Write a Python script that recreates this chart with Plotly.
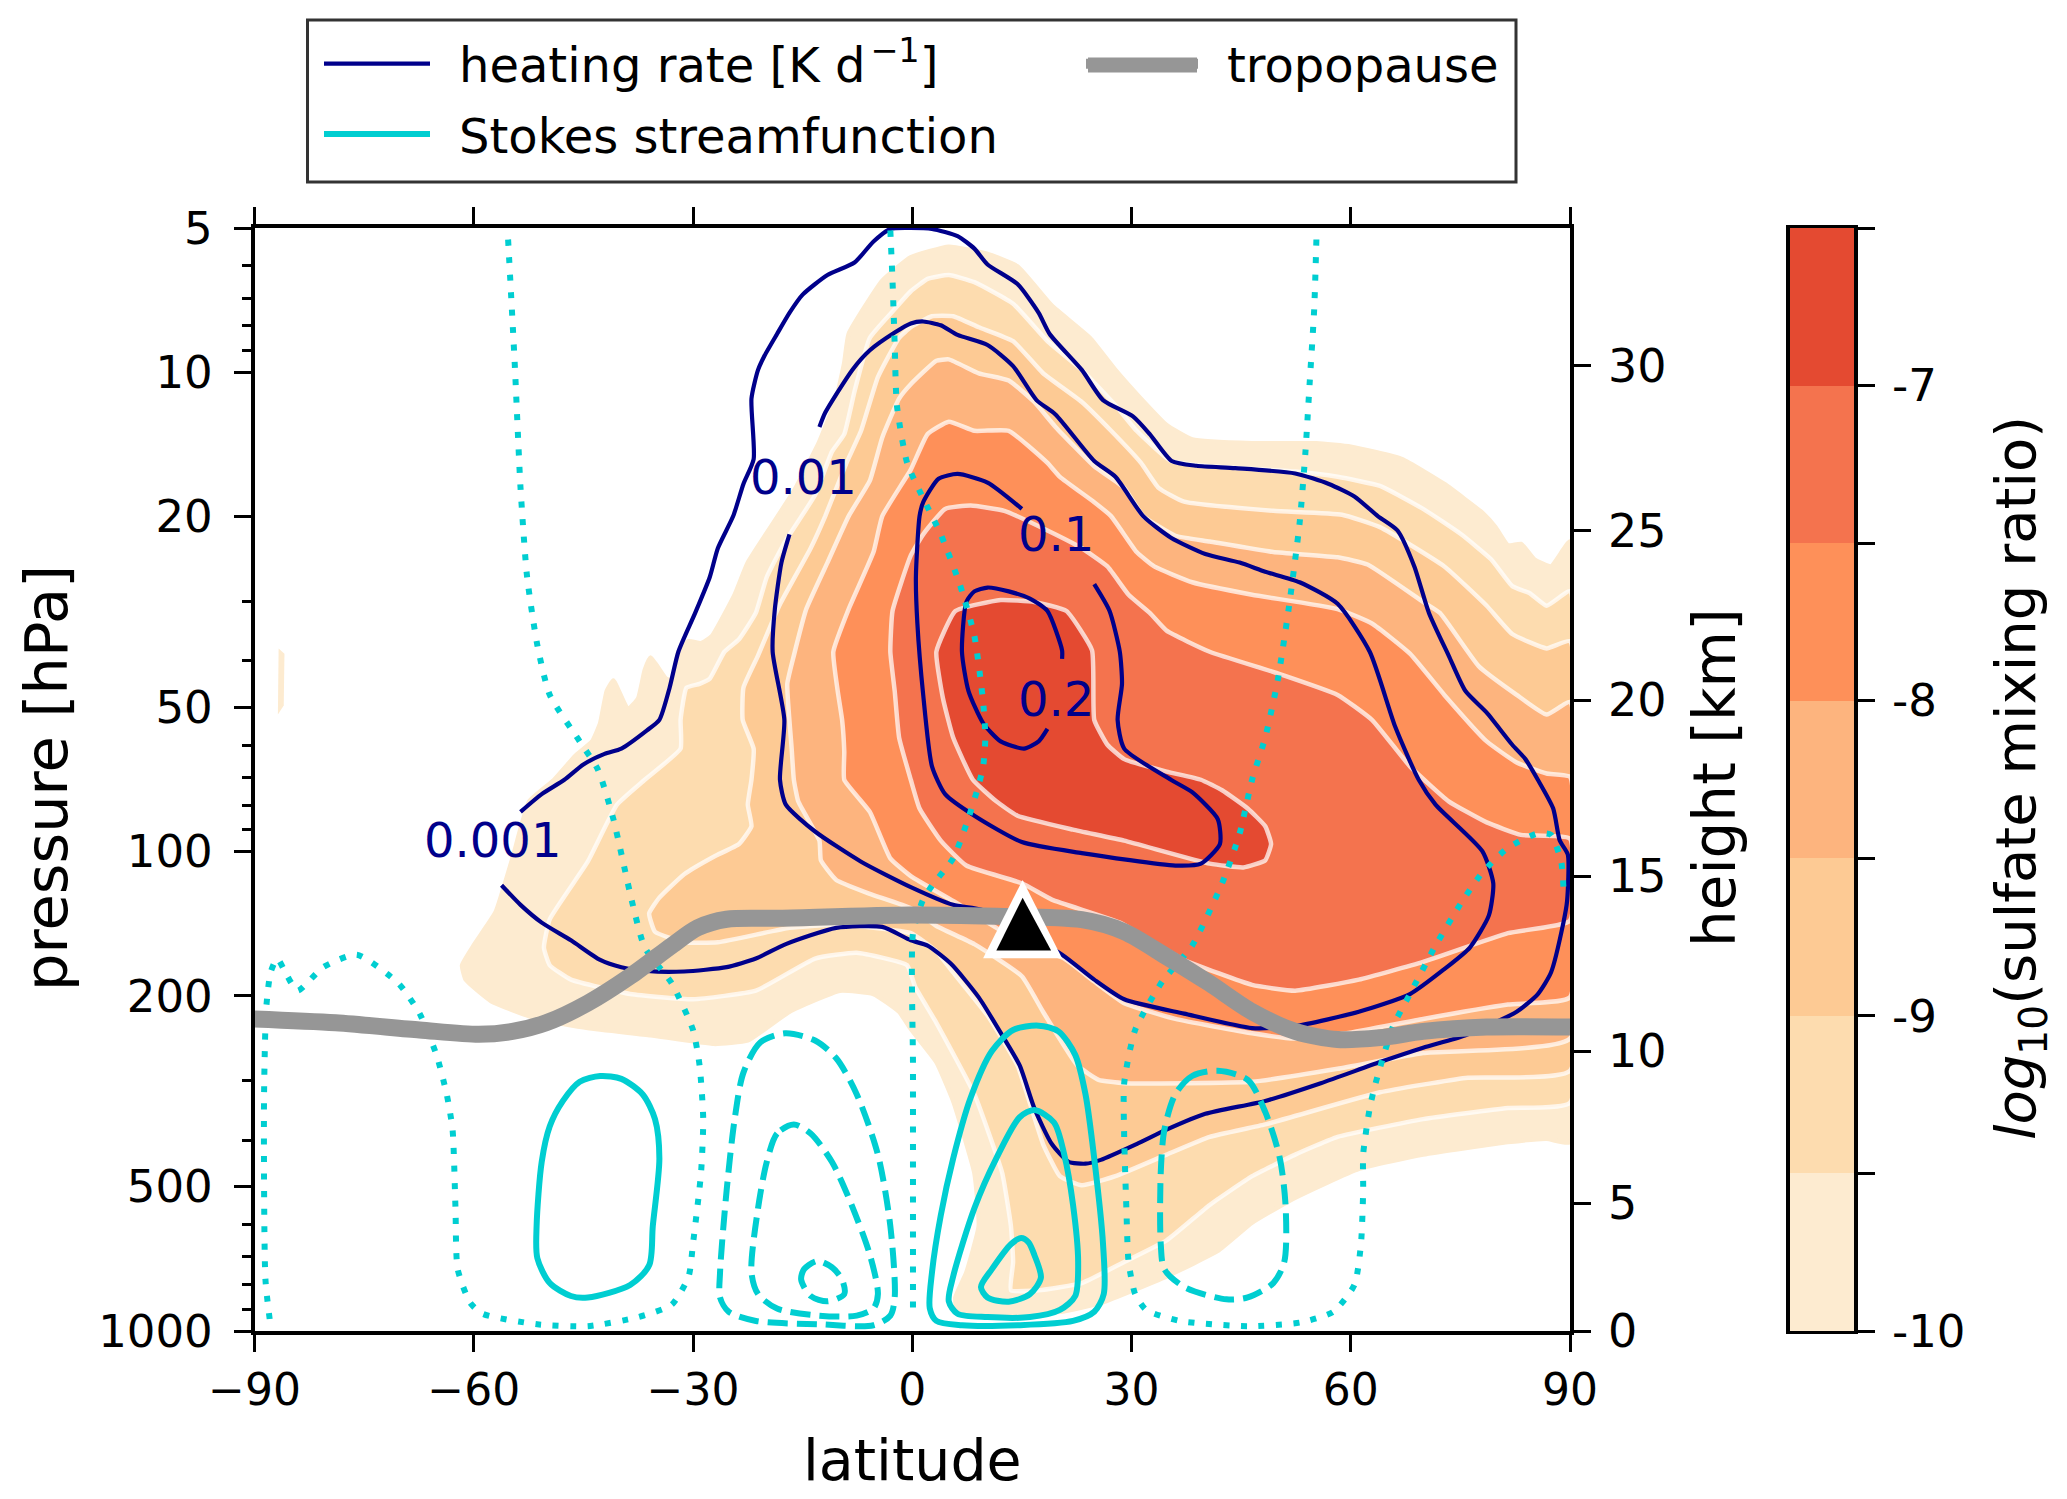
import plotly.graph_objects as go

W, H = 2067, 1499
FONT = "DejaVu Sans"

# ---- sulfate mixing ratio regions (latitude, log10 pressure) ----
levels = [-10, -9.5, -9, -8.5, -8, -7.5, -7]
level_colors = ["#fdebd0", "#fddcaf", "#fdca94", "#fdb47e", "#fe9059", "#f4734e", "#e44a31"]

s1_lat = [6.2,20.2,26.1,34.8,41.8,46.5,52.4,61.1,69.9,81.5,86.8,90,90,87.4,85.1,83.3,81.5,79.8,78,72.8,67,60,55.3,46.5,38.3,34.8,31.3,27.8,24.3,19.1,14.4,10.3,5,-.2,-4.1,-8.7,-9.3,-10.4,-12.7,-16.2,-22.5,-24.3,-27.4,-28.9,-30.6,-32,-32.9,-33.7,-35.8,-36.6,-37.5,-38.9,-40.9,-41.8,-42.7,-43.8,-46.1,-49,-52.4,-54.7,-57,-59.9,-61.6,-61.1,-57.6,-51.3,-44.4,-35.8,-27.1,-22.5,-16.8,-9.9,-5.3,-1.8,-.2,3.3,5.6,8.5,9.1,7.4,5.9]
s1_log = [2.96,2.96,2.94,2.886,2.833,2.774,2.722,2.662,2.632,2.606,2.599,2.606,1.353,1.405,1.39,1.358,1.361,1.323,1.293,1.233,1.181,1.155,1.148,1.148,1.14,1.11,1.055,.995,.928,.861,.779,.753,.738,.76,.809,.92,.98,1.055,1.144,1.248,1.397,1.464,1.55,1.565,1.561,1.583,1.643,1.639,1.595,1.621,1.68,1.703,1.643,1.665,1.732,1.77,1.8,1.85,1.895,2.014,2.126,2.193,2.237,2.267,2.312,2.349,2.368,2.383,2.401,2.394,2.334,2.29,2.297,2.334,2.37,2.439,2.52,2.67,2.781,2.878,2.93]
patch_lat = [-86.7,-85.9,-86.0,-86.8]
patch_log = [1.576,1.587,1.695,1.714]

s2_lat = [13.5,17.3,23.2,29,34.8,40.7,46.5,52.4,58.2,69.9,81.5,90,90,86.8,84.5,82.1,79.2,75.1,69.9,64,58.2,52.4,40.7,35.4,30.7,27.8,23.2,18.5,13.8,8.5,5,2.1,-.2,-2.4,-5.8,-7.9,-9.3,-11,-13.3,-17.4,-19.9,-21.4,-23.7,-25.7,-27.7,-29.1,-30.9,-31.7,-31.7,-36.6,-40.4,-44.4,-49.6,-50.4,-49.6,-46.7,-38.6,-30,-21.4,-13.3,-7.6,-.7,.4,3.3,8.5,12.3,13.5,13.8]
s2_log = [2.915,2.915,2.9,2.856,2.811,2.737,2.677,2.632,2.595,2.558,2.535,2.524,1.457,1.487,1.461,1.446,1.39,1.338,1.285,1.237,1.218,1.207,1.196,1.185,1.122,1.069,.995,.935,.857,.812,.797,.805,.831,.868,.928,1.04,1.129,1.166,1.256,1.353,1.427,1.502,1.557,1.583,1.639,1.65,1.658,1.725,1.785,1.85,1.902,2.021,2.141,2.2,2.237,2.267,2.297,2.308,2.29,2.223,2.211,2.237,2.282,2.357,2.506,2.67,2.781,2.856]

s3_lat = [90,75.7,64,48.3,40.7,34.8,27.8,23.2,20.2,17.9,14.4,10.3,5.6,3.3,-.2,-9.9,-16.8,-26.6,-31.2,-35.2,-36,-34.6,-31.2,-27.1,-23.7,-22,-22.5,-22,-21.7,-23.2,-23.1,-21.1,-18.2,-13.9,-11.9,-9,-7,-4.7,-1.8,-.2,2.7,5.6,9.1,13.8,17.9,23.2,27.2,31.3,33.7,37.2,49.4,58.8,64,72.8,78.6,82.1,86.8,90]
s3_log = [2.457,2.472,2.502,2.569,2.595,2.632,2.677,2.696,2.677,2.61,2.446,2.342,2.252,2.208,2.17,2.152,2.159,2.189,2.189,2.167,2.129,2.096,2.047,2.01,1.984,1.947,1.902,1.85,1.785,1.725,1.658,1.591,1.487,1.367,1.3,1.189,1.122,1.01,.928,.906,.883,.883,.906,.935,1.002,1.062,1.122,1.189,1.241,1.27,1.289,1.297,1.323,1.405,1.487,1.546,1.576,1.561]

s4_lat = [90,69.9,58.2,46.5,29,25.5,22.6,17.9,15,8.5,3.3,-.2,-5.8,-10.4,-12.5,-12.7,-15.6,-16.2,-16.5,-17.1,-16.2,-14.5,-11.6,-8.7,-5.8,-4.1,-1.8,-.2,3.3,5,9.1,13.2,16.7,19.6,24.9,29,31.6,36,40.7,49.4,58.2,62.3,69.9,72.2,77.5,82.7,86.8,90]
s4_log = [2.39,2.42,2.453,2.48,2.483,2.476,2.446,2.334,2.26,2.193,2.155,2.118,2.088,2.059,2.018,1.977,1.895,1.85,1.785,1.65,1.591,1.494,1.397,1.3,1.226,1.136,1.055,1.025,.976,.973,1.002,1.017,1.062,1.114,1.196,1.241,1.3,1.341,1.353,1.375,1.386,1.401,1.479,1.502,1.613,1.673,1.714,1.688]

s5_lat = [90,81.5,69.9,59.4,52.4,46.5,36,29,24.9,20.8,14.4,5.6,-.2,-3,-5.8,-9.3,-9.3,-9.6,-10.2,-10.8,-8.7,-5.3,-4.1,-.2,2.1,5,8.5,13.2,18.5,20.2,24.9,27.2,30.7,33.1,38.3,46.5,58.2,62.9,68.1,72.8,78.6,82.7,86.8,90]
s5_log = [2.304,2.319,2.349,2.379,2.39,2.379,2.349,2.316,2.271,2.223,2.185,2.103,2.051,2.014,1.917,1.85,1.792,1.725,1.665,1.583,1.494,1.375,1.3,1.203,1.129,1.103,1.122,1.122,1.189,1.218,1.271,1.3,1.375,1.405,1.438,1.464,1.494,1.524,1.587,1.673,1.77,1.814,1.837,1.844]

s6_lat = [90,81.5,69.9,61.1,52.4,46.5,37.2,28.4,19.1,15,7.4,3.9,1,-.2,-1.8,-2.4,-3,-2.7,-.2,1.5,4.5,8,12.6,18.5,23.2,26.7,29.6,32.5,34.8,40.7,50,58.2,62.9,68.1,73.4,78.6,83.3,90]
s6_log = [2.144,2.17,2.23,2.267,2.29,2.278,2.226,2.148,2.1,2.066,2.029,1.977,1.91,1.85,1.762,1.665,1.583,1.498,1.382,1.338,1.285,1.278,1.289,1.33,1.367,1.405,1.464,1.502,1.539,1.583,1.628,1.673,1.725,1.822,1.895,1.939,1.965,1.973]

s7_lat = [3.3,5.9,12.1,16.7,21.1,24.6,24.9,26.7,29,34.8,39.5,42.4,45.9,48.3,49.1,48.3,45.3,40.7,29,22,14.4,11.5,8.3,5.6,4.2]
s7_log = [1.583,1.498,1.475,1.479,1.498,1.58,1.725,1.777,1.807,1.833,1.85,1.872,1.91,1.947,1.984,2.018,2.033,2.025,1.977,1.954,1.925,1.895,1.85,1.762,1.68]

# ---- heating rate contours ----
h001_lat = [-56.2,-53.6,-50.7,-46.7,-42.7,-39.8,-36.3,-31.2,-25.4,-21.4,-17.3,-10.4,-4.1,-.2,2.1,5.3,9.1,12.3,14.7,16.7,19.1,21.4,23.7,25.8,30.7,34.8,40.1,48.3,55.9,64,69.9,75.7,82.7,85.6,87.4,89.1,89.6,89.7,88.6,87.7,85.6,83.9,82.1,78.6,75.7,73.4,70.7,68.7,66.4,63.7,60.5,57,52.4,44.2,38.9,35.5,32.5,30.2,26.1,23.2,18.8,17.3,14.4,10.3,8.5,6.2,2.7,-.2,-3,-5.3,-7.9,-11.6,-15,-16.8,-18.5,-20.2,-21.1,-22,-21.7,-23.1,-24.5,-26.6,-27.7,-29.7,-32,-33.2,-34.6,-36.3,-39.8,-42.1,-45,-47.6,-50.7,-53.6]
h001_log = [2.07,2.111,2.148,2.185,2.226,2.241,2.249,2.25,2.241,2.223,2.193,2.159,2.157,2.185,2.196,2.234,2.304,2.383,2.446,2.535,2.61,2.647,2.651,2.643,2.61,2.58,2.547,2.52,2.483,2.439,2.409,2.383,2.334,2.297,2.252,2.148,2.103,2.006,1.977,1.91,1.85,1.807,1.777,1.71,1.665,1.591,1.502,1.405,1.33,1.3,1.259,1.233,1.211,1.2,1.195,1.185,1.129,1.092,1.058,.995,.92,.876,.816,.775,.742,.716,.701,.699,.701,.727,.771,.797,.838,.876,.92,.965,.995,1.055,1.181,1.233,1.3,1.367,1.427,1.502,1.583,1.658,1.725,1.747,1.785,1.796,1.818,1.85,1.88,1.917]

h01_lat = [-12.7,-11.9,-8.2,-5.8,-2.4,-.2,1.5,3.9,6.2,10.3,13.8,17,19.6,24.9,27.8,31.6,35.4,40.1,44.8,48.3,53,58.2,62.6,66.1,69.3,71.6,78,79.5,78.9,76.3,72.8,68.1,61.1,52.4,46.5,37.2,29,24.9,20.5,9.7,5.6,-.2,-7,-13.3,-17.3,-18.1,-17.5,-19.1,-18.8,-17.9,-16.8]
h01_log = [1.114,1.084,.995,.954,.917,.898,.894,.902,.922,.943,.987,1.058,1.088,1.185,1.218,1.3,1.345,1.379,1.397,1.416,1.438,1.483,1.583,1.74,1.85,1.902,1.999,2.066,2.133,2.2,2.245,2.297,2.334,2.364,2.368,2.338,2.308,2.267,2.215,2.122,2.111,2.074,2.021,1.958,1.902,1.85,1.725,1.583,1.494,1.397,1.338]

h1_lat = [15,10.3,6.2,3.6,1.5,1,.5,.7,1.5,2.7,4.5,8.5,15,23.2,36,39.5,42.1,41.8,38.3,35.4,29,28.1,28.7,28.4,27,24.9]
h1_log = [1.285,1.23,1.212,1.222,1.271,1.3,1.427,1.524,1.673,1.822,1.88,1.925,1.98,2.003,2.029,2.025,1.984,1.932,1.876,1.85,1.785,1.725,1.65,1.583,1.498,1.442]

h2_lat = [20.5,20.5,18.5,16.1,13.2,10.3,8.5,7.4,6.8,7.7,9.7,12.1,15.3,17.3,18.5]
h2_log = [1.598,1.58,1.498,1.472,1.457,1.449,1.457,1.479,1.583,1.665,1.732,1.77,1.785,1.77,1.744]

heat_labels = ["0.001", "0.01", "0.1", "0.2"]
heat_label_lat = [-57.4, -14.9, 19.7, 19.7]
heat_label_log = [1.975, 1.219, 1.337, 1.681]

# ---- Stokes streamfunction contours ----
d1_lat = [-55.3,-54.4,-53.6,-52.7,-51.3,-49.6,-45.5,-43,-40.9,-38.3,-36.6,-32.9,-30,-29.1,-28.6,-28.9,-30,-30.6,-32.9,-37.5,-44.4,-51.3,-58.8,-60.5,-62.2,-62.5,-62.9,-63.7,-65.1,-67.4,-70.3,-76,-80.6,-84.1,-85.5,-86.9,-87.8,-88.4,-88.7,-88.5,-87.8]
d1_log = [.723,.98,1.241,1.427,1.569,1.673,1.77,1.829,1.932,2.107,2.2,2.275,2.372,2.446,2.558,2.67,2.818,2.886,2.945,2.971,2.99,2.986,2.964,2.941,2.871,2.744,2.58,2.506,2.424,2.338,2.275,2.215,2.241,2.29,2.26,2.223,2.252,2.327,2.52,2.893,2.99]
d2_lat = [-3,-2.7,-2.4,-2.1,-.7,1.5,3.9,6.5,8.5,9.7,10,9.7,8.8,7.4,5.6,2.7,1.4,.1,.1,.1]
d2_log = [.704,.809,.943,1.069,1.189,1.263,1.338,1.442,1.55,1.688,1.762,1.822,1.876,1.943,2.014,2.071,2.103,2.17,2.446,2.968]
d3_lat = [55.3,55,54.4,53.8,53,51.5,50,48.3,46.5,44.8,42.4,38.3,34.2,30.5,29,29,29.3,29.6,30.5,32,36.6,45.9,53.2,57.6,60.5,61.4,61.7,61.7,62.6,63.4,65.8,68.1,71.6,75.1,78,81.5,85.6,87.4,88.8,89.1]
d3_log = [.723,.868,1.017,1.166,1.315,1.494,1.643,1.762,1.85,1.962,2.066,2.196,2.271,2.372,2.483,2.595,2.744,2.856,2.923,2.956,2.979,2.99,2.982,2.96,2.904,2.818,2.707,2.632,2.535,2.483,2.364,2.297,2.196,2.107,2.044,1.992,1.962,1.965,2.021,2.074]

pos1_lat = [-42.7,-45.5,-47.8,-49.6,-50.7,-51.4,-51.3,-49.6,-46.7,-44.4,-38.6,-36,-35.5,-34.6,-35.2,-36.9,-39.8,-42.7]
pos1_log = [2.468,2.48,2.52,2.573,2.647,2.781,2.848,2.9,2.927,2.93,2.904,2.863,2.781,2.64,2.558,2.506,2.474,2.468]
pos2_lat = [17.3,13.8,10.9,8,5.6,3.9,2.7,2.4,3.3,6.8,14.4,22,24.9,26.2,26.1,24.9,23.7,22.3,20,17.3]
pos2_log = [2.363,2.372,2.416,2.513,2.64,2.759,2.878,2.953,2.979,2.988,2.988,2.979,2.96,2.923,2.818,2.64,2.506,2.424,2.375,2.363]
pos3_lat = [16.7,14.7,11.5,8.5,5.6,5,6.2,10.3,16.1,20.2,22.3,22.7,22,20.8,19.4,16.7]
pos3_log = [2.539,2.554,2.64,2.744,2.886,2.938,2.964,2.971,2.971,2.956,2.927,2.856,2.737,2.632,2.565,2.539]
pos4_lat = [14.9,13.5,10.9,9.4,10.3,13.2,16.1,17.6,16.7,15.9,14.9]
pos4_log = [2.806,2.819,2.871,2.908,2.93,2.939,2.923,2.889,2.841,2.815,2.806]

neg1_lat = [-17.4,-20.8,-23.1,-24.3,-25.4,-26.3,-26.3,-25.1,-21.4,-12.7,-5.3,-3,-2.4,-3,-4.7,-7.6,-10.4,-13.3,-17.4]
neg1_log = [2.379,2.398,2.461,2.558,2.707,2.878,2.93,2.96,2.979,2.986,2.988,2.968,2.93,2.781,2.632,2.506,2.431,2.394,2.379]
neg2_lat = [-16.2,-18.5,-19.9,-21.1,-22,-21.1,-18.5,-12.7,-7.6,-5.3,-4.7,-5.8,-8.7,-11,-13.9,-16.2]
neg2_log = [2.569,2.588,2.647,2.744,2.878,2.923,2.953,2.968,2.968,2.953,2.923,2.841,2.722,2.647,2.588,2.569]
neg3_lat = [-13,-14.8,-15.2,-13.9,-11.6,-9.3,-9.6,-11,-13]
neg3_log = [2.854,2.871,2.893,2.927,2.938,2.923,2.893,2.867,2.854]
neg4_lat = [41.8,38.3,36,34.5,34,34,34.5,37.2,43,45.9,49.4,50.9,51.1,50.3,48.3,45.9,41.8]
neg4_log = [2.457,2.468,2.506,2.58,2.67,2.818,2.871,2.908,2.934,2.93,2.9,2.856,2.744,2.64,2.543,2.476,2.457]

# ---- tropopause ----
trop_lat = [-90,-78.9,-67.4,-59.3,-54.7,-50.1,-44.4,-38.6,-32.9,-29.4,-25.4,-18.5,-.2,11.5,23.2,29,34.8,40.7,46.5,52.4,58.2,64,69.9,78.6,90]
trop_log = [2.349,2.357,2.372,2.381,2.375,2.357,2.316,2.26,2.196,2.159,2.141,2.139,2.132,2.135,2.142,2.167,2.219,2.275,2.334,2.375,2.392,2.388,2.375,2.366,2.366]

# ---- eruption marker ----
tri_out_lat = [15.1, 20.5, 9.7, 15.1]
tri_out_log = [2.059, 2.2225, 2.2225, 2.059]
tri_in_lat = [15.1, 19.0, 11.5, 15.1]
tri_in_log = [2.096, 2.206, 2.206, 2.096]

# ---- axes ----
lat_ticks = [-90, -60, -30, 0, 30, 60, 90]
p_ticks = [5, 10, 20, 50, 100, 200, 500, 1000]
p_minor = [6, 7, 8, 9, 30, 40, 60, 70, 80, 90, 300, 400, 600, 700, 800, 900]
height_labels = ["0", "5", "10", "15", "20", "25", "30"]
height_at_p = [1000, 541, 261, 112.5, 48.3, 21.4, 9.7]
cbar_ticks = [-10, -9, -8, -7]
cbar_labels = ["-10", "-9", "-8", "-7"]
cbar_minor = [-9.5, -8.5, -7.5, -6.5]


def P(values):
    return [10 ** v for v in values]


def px(x):
    return x / W


def py(y):
    return 1 - y / H


def curve(lat, log, color, width, dash="solid", name=None, legend=None, smooth=0.6):
    return go.Scatter(
        x=lat, y=P(log), mode="lines", hoverinfo="skip",
        line=dict(color=color, width=width, dash=dash, shape="spline", smoothing=smooth),
        name=name, showlegend=name is not None, legend=legend, legendgroup=name,
    )


fig = go.Figure()

regions = [(s1_lat, s1_log), (s2_lat, s2_log), (s3_lat, s3_log), (s4_lat, s4_log),
           (s5_lat, s5_log), (s6_lat, s6_log), (s7_lat, s7_log)]
for i, (lat, log) in enumerate(regions):
    fig.add_trace(go.Scatter(
        x=lat + lat[:1], y=P(log + log[:1]), mode="lines", fill="toself", fillcolor=level_colors[i],
        hoverinfo="skip",
        line=dict(color="rgba(255,255,255,0.72)" if i else level_colors[i], width=4.5,
                  shape="spline", smoothing=0.4),
        showlegend=False))
fig.add_trace(go.Scatter(x=patch_lat, y=P(patch_log), mode="lines", fill="toself",
                         fillcolor=level_colors[0], line=dict(width=0), hoverinfo="skip", showlegend=False))

NAVY = "#00008b"
CYAN = "#00ced1"
GREY = "#969696"
NW = 4.2
CW = 6
fig.add_trace(curve(h001_lat, h001_log, NAVY, NW, name="\u2002heating rate [K d\u200a<sup>\u22121</sup>]", legend="legend"))
fig.add_trace(curve(h01_lat, h01_log, NAVY, NW))
fig.add_trace(curve(h1_lat, h1_log, NAVY, NW))
fig.add_trace(curve(h2_lat, h2_log, NAVY, NW))

DOT = "6px,11.5px"
DASH = "20px,9px"
for lat, log in [(d1_lat, d1_log), (d2_lat, d2_log), (d3_lat, d3_log)]:
    fig.add_trace(curve(lat, log, CYAN, CW, dash=DOT))
for lat, log in [(neg1_lat, neg1_log), (neg2_lat, neg2_log), (neg3_lat, neg3_log), (neg4_lat, neg4_log)]:
    fig.add_trace(curve(lat, log, CYAN, CW, dash=DASH, smooth=0.8))
fig.add_trace(curve(pos1_lat, pos1_log, CYAN, CW, name="\u2002Stokes streamfunction", legend="legend", smooth=0.8))
for lat, log in [(pos2_lat, pos2_log), (pos3_lat, pos3_log), (pos4_lat, pos4_log)]:
    fig.add_trace(curve(lat, log, CYAN, CW, smooth=0.8))

fig.add_trace(curve(trop_lat, trop_log, GREY, 17, name="\u2002tropopause", legend="legend2", smooth=0.8))

fig.add_trace(go.Scatter(x=tri_out_lat, y=P(tri_out_log), mode="lines", fill="toself", fillcolor="white",
                         line=dict(width=0), hoverinfo="skip", showlegend=False))
fig.add_trace(go.Scatter(x=tri_in_lat, y=P(tri_in_log), mode="lines", fill="toself", fillcolor="black",
                         line=dict(width=0), hoverinfo="skip", showlegend=False))

# right-hand height axis needs a trace of its own to be drawn
fig.add_trace(go.Scatter(x=[0], y=[100], yaxis="y2", mode="markers", marker=dict(opacity=0),
                         hoverinfo="skip", showlegend=False))

# colour bar drawn through its own axes
fig.add_trace(go.Bar(x=[0] * len(levels), y=[0.5] * len(levels), base=levels, width=1,
                     marker=dict(color=level_colors, line=dict(width=0)),
                     xaxis="x3", yaxis="y3", hoverinfo="skip", showlegend=False))

annotations = [
    dict(x=la, y=lo, xref="x", yref="y", text=t, showarrow=False,
         font=dict(family=FONT, size=48, color=NAVY))
    for t, la, lo in zip(heat_labels, heat_label_lat, heat_label_log)
]
for text, x, y, angle, size in [
    ("latitude", 912, 1460, 0, 57),
    ("pressure [hPa]", 46, 778, -90, 59),
    ("height [km]", 1715, 778, -90, 58),
    ("<i>log</i><sub>10</sub>(sulfate mixing ratio)", 2019, 778, -90, 56),
]:
    annotations.append(dict(x=px(x), y=py(y), xref="paper", yref="paper", xanchor="center", yanchor="middle",
                            text=text, showarrow=False, textangle=angle,
                            font=dict(family=FONT, size=size, color="black")))

axis_common = dict(showgrid=False, zeroline=False, showline=True, linecolor="black", linewidth=3.5,
                   ticks="outside", ticklen=17, tickwidth=3, tickcolor="black",
                   tickfont=dict(family=FONT, size=44, color="black"))

fig.update_layout(
    width=W, height=H, margin=dict(l=0, r=0, t=0, b=0, autoexpand=False),
    paper_bgcolor="white", plot_bgcolor="white", bargap=0, annotations=annotations,
    xaxis=dict(domain=[px(254.5), px(1570)], range=[-90, 90], tickvals=lat_ticks, mirror="ticks", anchor="y",
               **axis_common),
    yaxis=dict(domain=[py(1331), py(228)], type="log", range=[3, 0.69897], tickvals=p_ticks,
               ticktext=[str(v) for v in p_ticks], anchor="x", ticklabelstandoff=12,
               minor=dict(tickmode="array", tickvals=p_minor, ticks="outside", ticklen=9, tickwidth=2.5,
                          tickcolor="black"),
               **{**axis_common, "tickfont": dict(family=FONT, size=45, color="black")}),
    yaxis2=dict(domain=[py(1331), py(228)], type="log", range=[3, 0.69897], overlaying="y", side="right",
                tickvals=height_at_p, ticktext=height_labels, anchor="x", ticklabelstandoff=8,
                **{**axis_common, "tickfont": dict(family=FONT, size=46, color="black")}),
    xaxis3=dict(domain=[px(1790), px(1854)], range=[-0.5, 0.5], showticklabels=False, ticks="",
                showgrid=False, zeroline=False, showline=True, linecolor="black", linewidth=2.5, mirror=True,
                anchor="y3"),
    yaxis3=dict(domain=[py(1331), py(228)], range=[-10, -6.5], side="right", anchor="x3", mirror=True,
                tickvals=cbar_ticks, ticktext=cbar_labels, ticklabelstandoff=8,
                minor=dict(tickmode="array", tickvals=cbar_minor, ticks="outside", ticklen=17, tickwidth=3,
                           tickcolor="black"),
                **{**axis_common, "linewidth": 4, "tickfont": dict(family=FONT, size=45, color="black")}),
    legend=dict(x=px(319), y=py(26), xanchor="left", yanchor="top", bgcolor="rgba(0,0,0,0)", borderwidth=0,
                itemwidth=106, tracegroupgap=5, font=dict(family=FONT, size=48, color="black"),
                itemclick=False, itemdoubleclick=False),
    legend2=dict(x=px(1081), y=py(26), xanchor="left", yanchor="top", bgcolor="rgba(0,0,0,0)", borderwidth=0,
                 itemwidth=112, font=dict(family=FONT, size=48, color="black"),
                 itemclick=False, itemdoubleclick=False),
    shapes=[dict(type="rect", xref="paper", yref="paper", x0=px(307.5), x1=px(1516), y0=py(182), y1=py(20),
                 line=dict(color="#333333", width=3), fillcolor="rgba(0,0,0,0)", layer="below"),
            # plotly caps legend key width, so the thick tropopause key is completed here
            dict(type="line", xref="paper", yref="paper", x0=px(1088), x1=px(1197), y0=py(65), y1=py(65),
                 line=dict(color=GREY, width=15))],
)

fig.write_html("out.html", post_script="document.body.style.margin='0';",
               config={"displayModeBar": False})
